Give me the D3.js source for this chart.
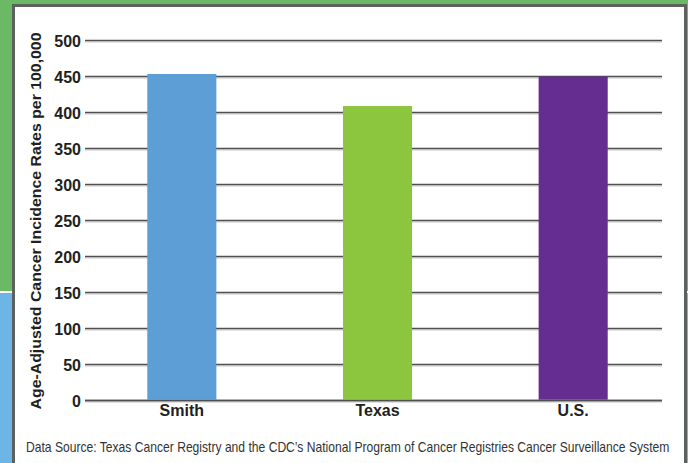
<!DOCTYPE html>
<html>
<head>
<meta charset="utf-8">
<script src="https://d3js.org/d3.v7.min.js"></script>
<style>
  html, body { margin: 0; padding: 0; background: #fff; }
  svg { display: block; }
</style>
</head>
<body>
<svg id="chart" width="688" height="463"></svg>
<script>
// Age-adjusted cancer incidence rates per 100,000
const categories = ["Smith", "Texas", "U.S."];
const rates = [453.5, 409, 450];
const barColors = ["#5e9ed6", "#8cc63f", "#652d90"];
const yTicks = [0, 50, 100, 150, 200, 250, 300, 350, 400, 450, 500];
const yTitle = "Age-Adjusted Cancer Incidence Rates per 100,000";
const sourceNote = "Data Source: Texas Cancer Registry and the CDC\u2019s National Program of Cancer Registries Cancer Surveillance System";

const svg = d3.select("#chart");
const W = 688, H = 463;

// Backdrop: green band on top, blue band below, thin white divider
svg.append("rect").attr("x", 0).attr("y", 0).attr("width", W).attr("height", 291).attr("fill", "#6bb865");
svg.append("rect").attr("x", 0).attr("y", 291).attr("width", W).attr("height", 2).attr("fill", "#ffffff");
svg.append("rect").attr("x", 0).attr("y", 293).attr("width", W).attr("height", H - 293).attr("fill", "#6cb5e4");

// White chart panel with grey frame
svg.append("rect")
  .attr("x", 13.5).attr("y", 5.5).attr("width", 672).attr("height", 470)
  .attr("fill", "#ffffff").attr("stroke", "#5d625f").attr("stroke-width", 3);

const y = d3.scaleLinear().domain([0, 500]).range([400.5, 40.5]);
const x = d3.scaleBand().domain(categories).range([84, 671]).paddingInner(0.647).paddingOuter(0.3235);

const gridX1 = 85, gridX2 = 662;

// Gridlines (dark line with a faint shadow underneath)
const grid = svg.append("g");
grid.selectAll("line.shadow").data(yTicks).join("line")
  .attr("class", "shadow")
  .attr("x1", gridX1).attr("x2", gridX2)
  .attr("y1", d => y(d) + 1.5).attr("y2", d => y(d) + 1.5)
  .attr("stroke", "#c4c4c4").attr("stroke-width", 1);
grid.selectAll("line.main").data(yTicks).join("line")
  .attr("class", "main")
  .attr("x1", gridX1).attr("x2", gridX2)
  .attr("y1", d => y(d)).attr("y2", d => y(d))
  .attr("stroke", "#4f4f4f").attr("stroke-width", 1.6);

// Bars
svg.append("g").selectAll("rect").data(rates).join("rect")
  .attr("x", (d, i) => x(categories[i]))
  .attr("width", x.bandwidth())
  .attr("y", d => y(d))
  .attr("height", d => y(0) - y(d) - 0.8)
  .attr("fill", (d, i) => barColors[i]);

// Redraw baseline above bars
svg.append("line")
  .attr("x1", gridX1).attr("x2", gridX2)
  .attr("y1", y(0)).attr("y2", y(0))
  .attr("stroke", "#4f4f4f").attr("stroke-width", 1.6);

// Y axis tick labels
const yAxis = d3.axisLeft(y).tickValues(yTicks).tickSize(0).tickPadding(0);
const gy = svg.append("g").attr("transform", "translate(81,0)").call(yAxis);
gy.select(".domain").remove();
gy.selectAll("text")
  .attr("font-family", "Arial, 'Liberation Sans', Helvetica, sans-serif")
  .attr("font-weight", "bold").attr("font-size", 16).attr("fill", "#231f20")
  .attr("dy", "0.36em");

// X axis category labels
const xAxis = d3.axisBottom(x).tickSize(0).tickPadding(0);
const gx = svg.append("g").attr("transform", "translate(0,405)").call(xAxis);
gx.select(".domain").remove();
gx.selectAll("text")
  .attr("font-family", "Arial, 'Liberation Sans', Helvetica, sans-serif")
  .attr("font-weight", "bold").attr("font-size", 16).attr("fill", "#231f20")
  .attr("dy", "0.71em");

// Y axis title
svg.append("text")
  .attr("transform", "translate(41,221) rotate(-90)")
  .attr("text-anchor", "middle")
  .attr("font-family", "Arial, 'Liberation Sans', Helvetica, sans-serif")
  .attr("font-weight", "bold").attr("font-size", 14.5).attr("fill", "#231f20")
  .attr("textLength", 377).attr("lengthAdjust", "spacingAndGlyphs")
  .text(yTitle);

// Source note, horizontally condensed to span the panel width
const noteG = svg.append("g");
const note = noteG.append("text")
  .attr("x", 0).attr("y", 0)
  .attr("font-family", "Arial, 'Liberation Sans', sans-serif")
  .attr("font-size", 14).attr("fill", "#333333")
  .text(sourceNote);
const noteWidth = note.node().getComputedTextLength();
noteG.attr("transform", `translate(26,452) scale(${644 / noteWidth},1)`);
</script>
</body>
</html>
